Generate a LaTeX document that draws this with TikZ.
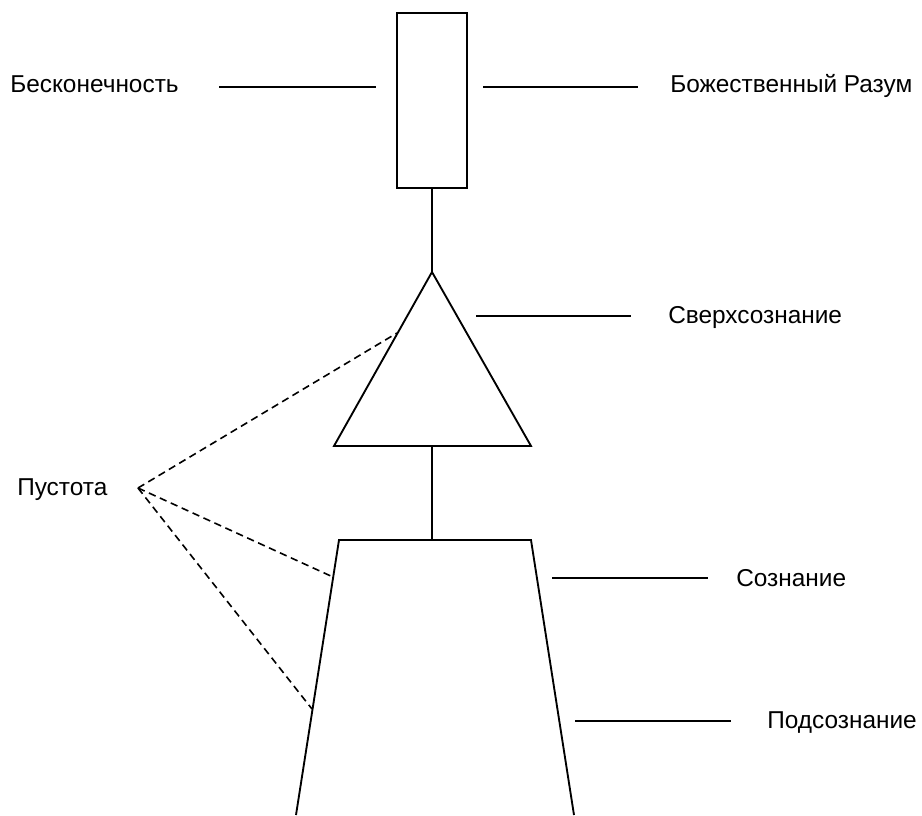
\documentclass[tikz,border=0pt]{standalone}
\usepackage{fontspec}
\setmainfont{Liberation Sans}
\usetikzlibrary{positioning}
\tikzset{
    label text/.style={font=\fontsize{18.3}{22}\selectfont, inner sep=0pt, anchor=base west},
    body line/.style={draw, line width=1.4pt, line join=miter},
    leader/.style={draw, line width=1.4pt},
    void line/.style={draw, line width=1.2pt, dash pattern=on 5.5pt off 3.5pt},
    mind box/.style={rectangle, draw, line width=1.4pt, minimum width=52.5pt, minimum height=131pt, inner sep=0pt}
}
\begin{document}
\begin{tikzpicture}[x=0.75pt, y=-0.75pt]
	\useasboundingbox (0,0) rectangle (922,815);
	% shapes
	\node[mind box] (mind) at (432,100.5) {};
	\coordinate (apex) at (432,272);
	\coordinate (tri left) at (334,446);
	\coordinate (tri right) at (531,446);
	\coordinate (tri base) at (432,446);
	\coordinate (top left) at (339,540);
	\coordinate (top right) at (531,540);
	\coordinate (top mid) at (432,540);
	\coordinate (bot left) at (296,815);
	\coordinate (bot right) at (574,815);
	\draw[body line] (apex) -- (tri left) -- (tri right) -- cycle;
	\draw[body line] (bot left) -- (top left) -- (top right) -- (bot right);
	\draw[body line] (mind.south) -- (apex);
	\draw[body line] (tri base) -- (top mid);
	% labels
	\node[label text] (infinity) at (10,92) {Бесконечность};
	\node[label text] (reason) at (670,92) {Божественный Разум};
	\node[label text] (super) at (668,323) {Сверхсознание};
	\node[label text] (void) at (17,495) {Пустота};
	\node[label text] (conscious) at (736,586) {Сознание};
	\node[label text] (subcons) at (767,728) {Подсознание};
	% leaders
	\coordinate (inf a) at (219,87);
	\coordinate (inf b) at (376,87);
	\coordinate (rea a) at (483,87);
	\coordinate (rea b) at (638,87);
	\coordinate (sup a) at (476,316);
	\coordinate (sup b) at (631,316);
	\coordinate (con a) at (552,578);
	\coordinate (con b) at (708,578);
	\coordinate (sub a) at (575,721);
	\coordinate (sub b) at (731,721);
	\draw[leader] (inf a) -- (inf b);
	\draw[leader] (rea a) -- (rea b);
	\draw[leader] (sup a) -- (sup b);
	\draw[leader] (con a) -- (con b);
	\draw[leader] (sub a) -- (sub b);
	% void
	\coordinate (void tip) at (138,488);
	\coordinate (void 1) at (397,333);
	\coordinate (void 2) at (333,577);
	\coordinate (void 3) at (312,709);
	\draw[void line] (void tip) -- (void 1);
	\draw[void line] (void tip) -- (void 2);
	\draw[void line] (void tip) -- (void 3);
\end{tikzpicture}
\end{document}
